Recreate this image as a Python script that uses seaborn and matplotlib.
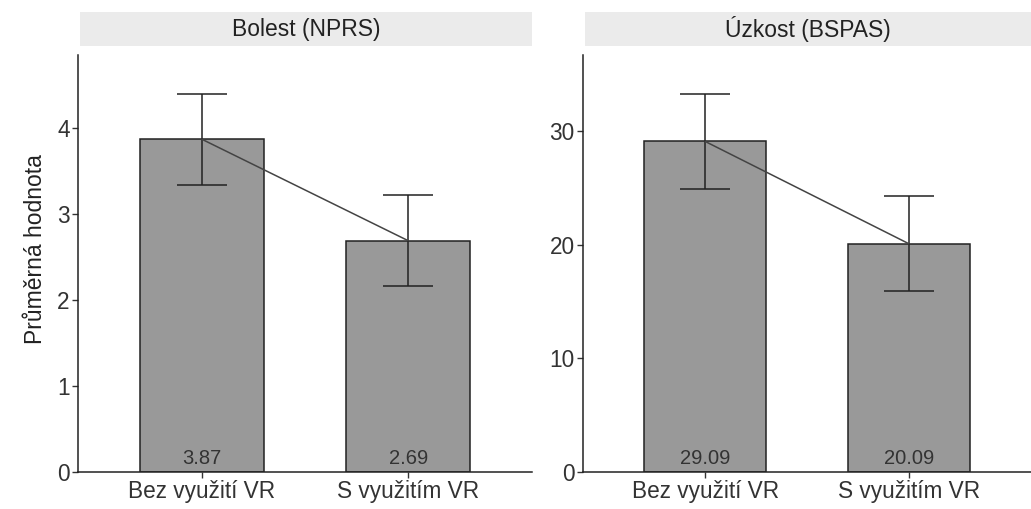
import pandas as pd
import seaborn as sns
import matplotlib.pyplot as plt
from matplotlib.patches import Rectangle

# data
groups = ["Bez využití VR", "S využitím VR"]
panels = ["Bolest (NPRS)", "Úzkost (BSPAS)"]
pain_means = [3.87, 2.69]
pain_err = [0.53, 0.53]
anxiety_means = [29.09, 20.09]
anxiety_err = [4.2, 4.2]
pain_ticks = [0, 1, 2, 3, 4]
anxiety_ticks = [0, 10, 20, 30]
ylims = [(0, 4.85), (0, 36.7)]

sns.set_style("white")
plt.rcParams["font.family"] = ["Liberation Sans", "DejaVu Sans"]

fig = plt.figure(figsize=(10.31, 5.09), dpi=100)
ax_pos = [[0.0757, 0.0727, 0.4403, 0.8193], [0.5655, 0.0727, 0.4345, 0.8193]]
strip_y, strip_h = 0.9096, 0.0668

all_means = [pain_means, anxiety_means]
all_err = [pain_err, anxiety_err]
all_ticks = [pain_ticks, anxiety_ticks]

for i in range(2):
    ax = fig.add_axes(ax_pos[i])
    df = pd.DataFrame({"group": groups, "mean": all_means[i]})
    sns.barplot(data=df, x="group", y="mean", ax=ax, color="#999999",
                saturation=1, width=0.6, edgecolor="#222222", linewidth=1.1,
                errorbar=None)
    ax.errorbar(range(len(groups)), all_means[i], yerr=all_err[i], fmt="none",
                ecolor="#222222", elinewidth=1.1, capsize=18, capthick=1.1)
    ax.plot(range(len(groups)), all_means[i], color="#444444", linewidth=1.1)
    for j, v in enumerate(all_means[i]):
        ax.text(j, ylims[i][1] * 0.01, f"{v:.2f}", ha="center", va="bottom",
                fontsize=14.5, color="#333333")
    ax.set_xlim(-0.6, 1.6)
    ax.set_ylim(*ylims[i])
    ax.set_yticks(all_ticks[i])
    ax.set_xlabel("")
    ax.set_ylabel("Průměrná hodnota" if i == 0 else "", fontsize=16.5,
                  color="#222222")
    if i == 0:
        ax.yaxis.set_label_coords(-0.068, 0.535)
    sns.despine(ax=ax)
    for s in ["left", "bottom"]:
        ax.spines[s].set_color("#222222")
        ax.spines[s].set_linewidth(1.1)
    ax.tick_params(axis="both", length=4, width=1, color="#333333",
                   labelsize=16.3, labelcolor="#333333", pad=2, direction="out",
                   left=True, bottom=True)
    # facet strip
    sax = fig.add_axes([ax_pos[i][0] + 0.002, strip_y, ax_pos[i][2] - 0.002, strip_h])
    sax.add_patch(Rectangle((0, 0), 1, 1, color="#ebebeb", transform=sax.transAxes))
    sax.text(0.5, 0.5, panels[i], ha="center", va="center", fontsize=16.5,
             color="#222222", transform=sax.transAxes)
    sax.set_axis_off()

fig.savefig("out.png", dpi=100)
